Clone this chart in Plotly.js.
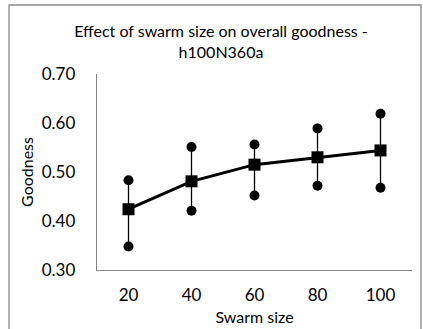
<!DOCTYPE html>
<html>
<head>
<meta charset="utf-8">
<script src="https://cdn.plot.ly/plotly-3.0.1.min.js"></script>
<style>
html,body{margin:0;padding:0;background:#fff;}
#chart{width:423px;height:329px;}
</style>
</head>
<body>
<div id="chart"></div>
<script>
// Data
const swarmSizes = [20, 40, 60, 80, 100];
const meanGoodness = [0.424, 0.481, 0.515, 0.530, 0.544];
const upperGoodness = [0.483, 0.551, 0.556, 0.589, 0.619];
const lowerGoodness = [0.348, 0.421, 0.452, 0.472, 0.468];
const xTickLabels = ['20', '40', '60', '80', '100'];
const yTickVals = [0.30, 0.40, 0.50, 0.60, 0.70];
const yTickLabels = ['0.30', '0.40', '0.50', '0.60', '0.70'];

const errPlus = meanGoodness.map((m, i) => upperGoodness[i] - m);
const errMinus = meanGoodness.map((m, i) => m - lowerGoodness[i]);

const FONT = 'Lato, "Open Sans", sans-serif';

const traces = [
  {
    x: swarmSizes, y: meanGoodness, type: 'scatter', mode: 'lines+markers',
    line: {color: '#000', width: 3},
    marker: {symbol: 'square', size: 12, color: '#000'},
    error_y: {type: 'data', symmetric: false, array: errPlus, arrayminus: errMinus,
              color: '#000', thickness: 1.3, width: 0},
    showlegend: false, hoverinfo: 'skip'
  },
  {
    x: swarmSizes, y: upperGoodness, type: 'scatter', mode: 'markers',
    marker: {symbol: 'circle', size: 10, color: '#000'},
    showlegend: false, hoverinfo: 'skip'
  },
  {
    x: swarmSizes, y: lowerGoodness, type: 'scatter', mode: 'markers',
    marker: {symbol: 'circle', size: 10, color: '#000'},
    showlegend: false, hoverinfo: 'skip'
  }
];

const L = 97, R = 11, T = 74, B = 59;
const W = 423, H = 329;
const pw = W - L - R, ph = H - T - B;

const layout = {
  width: W, height: H,
  margin: {l: L, r: R, t: T, b: B, pad: 0},
  paper_bgcolor: '#fff', plot_bgcolor: '#fff',
  font: {family: FONT, color: '#000'},
  title: {
    text: 'Effect of swarm size on overall goodness -<br>h100N360a',
    font: {family: FONT, size: 16, color: '#000'},
    xref: 'container', x: 221 / W, xanchor: 'center',
    yref: 'container', y: 1 - 37 / H, yanchor: 'top'
  },
  xaxis: {
    range: [10, 110], tickvals: swarmSizes, ticktext: xTickLabels,
    showgrid: false, zeroline: false, showline: true, linecolor: '#868686', linewidth: 1.3,
    ticks: '', ticklabelstandoff: 9,
    tickfont: {family: FONT, size: 17, color: '#000'},
    title: {text: 'Swarm size', font: {family: FONT, size: 16, color: '#000'}, standoff: 8},
    automargin: false, fixedrange: true
  },
  yaxis: {
    range: [0.30, 0.70], tickvals: yTickVals, ticktext: yTickLabels,
    showgrid: false, zeroline: false, showline: true, linecolor: '#868686', linewidth: 1.3,
    ticks: '', ticklabelstandoff: 17,
    tickfont: {family: FONT, size: 17, color: '#000'},
    title: {text: 'Goodness', font: {family: FONT, size: 16, color: '#000'}, standoff: 4},
    automargin: false, fixedrange: true
  },
  shapes: [{
    type: 'rect', xref: 'paper', yref: 'paper',
    x0: (9 - L) / pw, x1: (421 - L) / pw,
    y0: (H - B - 340) / ph, y1: (H - B - 5) / ph,
    line: {color: '#898989', width: 1.3}, fillcolor: 'rgba(0,0,0,0)', layer: 'below'
  }]
};

Plotly.newPlot('chart', traces, layout, {staticPlot: true, displayModeBar: false});
</script>
</body>
</html>
